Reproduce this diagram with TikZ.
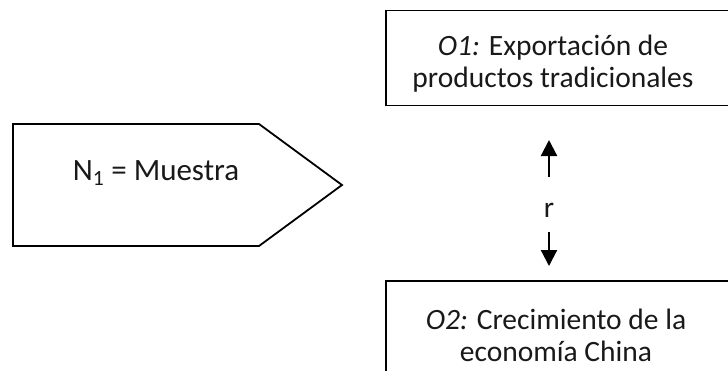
\documentclass[tikz,border=0pt]{standalone}
\usepackage{fontspec}
\setmainfont{Carlito}
\usetikzlibrary{arrows.meta}
\begin{document}
\begin{tikzpicture}[x=1pt,y=-1pt,
  shape line/.style={draw=black, line width=1.8pt, line join=miter},
  boxnode/.style={shape line, rectangle, minimum width=360pt, minimum height=95pt, inner sep=0pt, anchor=north west},
  label text/.style={font=\fontsize{29.5}{32}\selectfont, align=center, inner sep=0pt, text=black!90},
  rarrow/.style={line width=2.2pt, -{Triangle[width=16pt,length=16pt]}}]
\useasboundingbox (0,0) rectangle (728,370);
\clip (0,0) rectangle (728,370);
% pentagon
\draw[shape line] (13,124) -- (259,124) -- (342,185) -- (259,246) -- (13,246) -- cycle;
\node[label text, font=\fontsize{31}{34}\selectfont] (n1) at (156,173) {N\textsubscript{1} = Muestra};
% boxes
\node[boxnode] (box1) at (385,9.5) {};
\node[label text] (t1) at (553,64) {{\itshape O1:} Exportación de\\productos tradicionales};
\node[boxnode, minimum height=120pt] (box2) at (385,280) {};
\node[label text] (t2) at (556,335) {{\itshape O2:} Crecimiento de la\\economía China};
% correlation arrows
\coordinate (u1) at (549,177);
\coordinate (u2) at (549,140);
\coordinate (d1) at (549,232);
\coordinate (d2) at (549,266);
\draw[rarrow] (u1) -- (u2);
\draw[rarrow] (d1) -- (d2);
\node[label text] (r) at (549,210) {r};
\end{tikzpicture}
\end{document}
